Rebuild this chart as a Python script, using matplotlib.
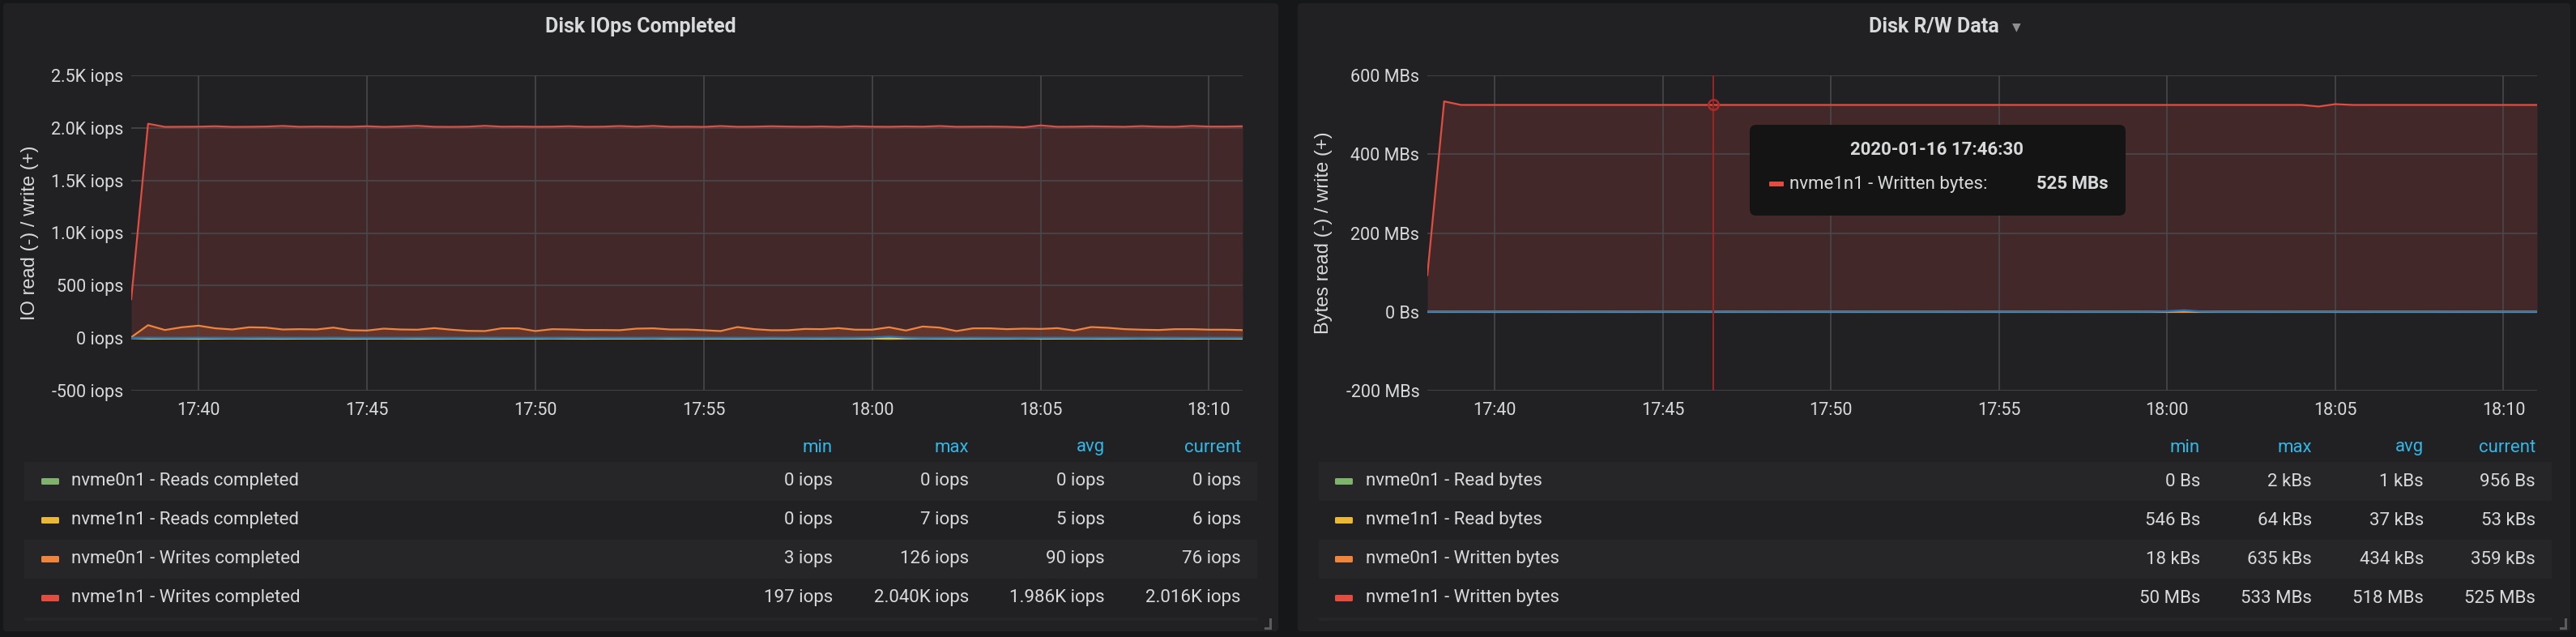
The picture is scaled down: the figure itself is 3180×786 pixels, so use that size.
import matplotlib
matplotlib.use('Agg')
import matplotlib.pyplot as plt
import matplotlib.dates as mdates
from matplotlib.patches import FancyBboxPatch
from matplotlib.transforms import IdentityTransform
from matplotlib.ticker import FuncFormatter, MultipleLocator
from matplotlib.lines import Line2D
from datetime import datetime, timedelta

W, H = 3180, 786

# ---- data (30 s samples, 17:38:00 .. 18:11:00) ----
start = datetime(2020, 1, 16, 17, 38, 0)
n_pts = 67

green_iops = [0, 0, 0, 0, 0, 0, 0, 0, 0, 0,
              0, 0, 0, 0, 0, 0, 0, 0, 0, 0,
              0, 0, 0, 0, 0, 0, 0, 0, 0, 0,
              0, 0, 0, 0, 0, 0, 0, 0, 0, 0,
              0, 0, 0, 0, 0, 0, 0, 0, 0, 0,
              0, 0, 0, 0, 0, 0, 0, 0, 0, 0,
              0, 0, 0, 0, 0, 0, 0]
yellow_iops = [-1, -6, -5, -5, -6, -5, -4, -5, -5, -6,
               -5, -5, -4, -6, -5, -5, -5, -6, -5, -4,
               -5, -5, -6, -5, -5, -4, -5, -6, -5, -5,
               -5, -4, -6, -5, -5, -5, -6, -5, -4, -5,
               -5, -6, -5, -5, -5, -7, -5, -4, -5, -6,
               -5, -5, -5, -4, -6, -5, -5, -5, -6, -5,
               -4, -5, -5, -6, -5, -5, -6]
orange_iops = [8, 123, 77, 103, 118, 93, 82, 103, 100, 82,
               85, 82, 100, 75, 72, 90, 82, 80, 95, 80,
               69, 67, 93, 93, 67, 85, 82, 77, 77, 75,
               90, 93, 82, 82, 75, 67, 105, 85, 75, 75,
               87, 85, 95, 80, 80, 103, 72, 110, 100, 67,
               93, 93, 85, 90, 87, 95, 72, 105, 98, 85,
               80, 77, 85, 85, 80, 80, 76]
red_iops = [370, 2040, 2010, 2011, 2012, 2016, 2010, 2011, 2013, 2019,
            2011, 2013, 2012, 2011, 2016, 2010, 2014, 2020, 2011, 2010,
            2012, 2020, 2012, 2013, 2011, 2012, 2016, 2011, 2012, 2018,
            2012, 2019, 2011, 2012, 2010, 2018, 2011, 2012, 2016, 2013,
            2011, 2014, 2010, 2016, 2012, 2011, 2014, 2012, 2018, 2011,
            2012, 2013, 2011, 2006, 2024, 2011, 2012, 2015, 2013, 2011,
            2017, 2012, 2011, 2019, 2013, 2013, 2016]
blue_iops = [2, 3, 2, 2, 3, 2, 2, 2, 3, 2,
             2, 2, 3, 2, 2, 2, 2, 3, 2, 2,
             2, 3, 2, 2, 2, 2, 3, 2, 2, 2,
             2, 2, 3, 2, 2, 2, 2, 2, 3, 2,
             2, 2, 2, 3, 6, 15, 5, 2, 2, 2,
             3, 2, 2, 2, 2, 3, 2, 2, 2, 2,
             2, 3, 2, 2, 2, 2, 2]

# MB/s
green_mb = [0, 0, 0, 0, 0, 0, 0, 0, 0, 0,
            0, 0, 0, 0, 0, 0, 0, 0, 0, 0,
            0, 0, 0, 0, 0, 0, 0, 0, 0, 0,
            0, 0, 0, 0, 0, 0, 0, 0, 0, 0,
            0, 0, 0, 0, 0, 0, 0, 0, 0, 0,
            0, 0, 0, 0, 0, 0, 0, 0, 0, 0,
            0, 0, 0, 0, 0, 0, 0]
yellow_mb = [-0.01, -0.06, -0.04, -0.04, -0.03, -0.04, -0.04, -0.03, -0.04, -0.04,
             -0.04, -0.03, -0.04, -0.04, -0.04, -0.03, -0.04, -0.04, -0.04, -0.03,
             -0.04, -0.04, -0.03, -0.04, -0.04, -0.04, -0.03, -0.04, -0.04, -0.04,
             -0.03, -0.04, -0.04, -0.04, -0.03, -0.04, -0.04, -0.04, -0.03, -0.04,
             -0.04, -0.04, -0.03, -0.04, -0.05, -0.06, -0.04, -0.04, -0.03, -0.04,
             -0.04, -0.04, -0.03, -0.04, -0.04, -0.04, -0.03, -0.04, -0.04, -0.04,
             -0.03, -0.04, -0.04, -0.04, -0.03, -0.04, -0.05]
orange_mb = [0.02, 0.63, 0.45, 0.5, 0.55, 0.45, 0.4, 0.5, 0.48, 0.4,
             0.42, 0.4, 0.48, 0.38, 0.36, 0.44, 0.4, 0.4, 0.46, 0.4,
             0.35, 0.34, 0.45, 0.45, 0.34, 0.42, 0.4, 0.38, 0.38, 0.37,
             0.44, 0.45, 0.4, 0.4, 0.37, 0.34, 0.5, 0.42, 0.37, 0.37,
             0.43, 0.42, 0.46, 0.4, 0.4, 0.5, 0.36, 0.52, 0.48, 0.34,
             0.45, 0.45, 0.42, 0.44, 0.43, 0.46, 0.36, 0.5, 0.47, 0.42,
             0.4, 0.38, 0.42, 0.42, 0.4, 0.4, 0.36]
red_mb = [93, 534, 525, 525, 525, 525, 525, 525, 525, 525,
          525, 525, 525, 525, 525, 525, 525, 525, 525, 525,
          525, 525, 525, 525, 525, 525, 525, 525, 525, 525,
          525, 525, 525, 525, 525, 525, 525, 525, 525, 525,
          525, 525, 525, 525, 525, 525, 525, 525, 525, 525,
          525, 525, 525, 521, 527, 525, 525, 525, 525, 525,
          525, 525, 525, 525, 525, 525, 525]
blue_mb = [0.5, 0.6, 0.5, 0.5, 0.6, 0.5, 0.5, 0.5, 0.6, 0.5,
           0.5, 0.5, 0.6, 0.5, 0.5, 0.5, 0.5, 0.6, 0.5, 0.5,
           0.5, 0.6, 0.5, 0.5, 0.5, 0.5, 0.6, 0.5, 0.5, 0.5,
           0.5, 0.5, 0.6, 0.5, 0.5, 0.5, 0.5, 0.5, 0.6, 0.5,
           0.5, 0.5, 0.5, 0.6, 1.5, 4.0, 1.0, 0.5, 0.5, 0.5,
           0.6, 0.5, 0.5, 0.5, 0.5, 0.6, 0.5, 0.5, 0.5, 0.5,
           0.5, 0.6, 0.5, 0.5, 0.5, 0.5, 0.5]

iops_names = ["nvme0n1 - Reads completed", "nvme1n1 - Reads completed",
              "nvme0n1 - Writes completed", "nvme1n1 - Writes completed"]
iops_stats = [["0 iops", "0 iops", "0 iops", "0 iops"],
              ["0 iops", "7 iops", "5 iops", "6 iops"],
              ["3 iops", "126 iops", "90 iops", "76 iops"],
              ["197 iops", "2.040K iops", "1.986K iops", "2.016K iops"]]
bytes_names = ["nvme0n1 - Read bytes", "nvme1n1 - Read bytes",
               "nvme0n1 - Written bytes", "nvme1n1 - Written bytes"]
bytes_stats = [["0 Bs", "2 kBs", "1 kBs", "956 Bs"],
               ["546 Bs", "64 kBs", "37 kBs", "53 kBs"],
               ["18 kBs", "635 kBs", "434 kBs", "359 kBs"],
               ["50 MBs", "533 MBs", "518 MBs", "525 MBs"]]
stat_heads = ["min", "max", "avg", "current"]

hover_time = datetime(2020, 1, 16, 17, 46, 30)
hover_label = "nvme1n1 - Written bytes:"
hover_value = 525

# ---- style ----
PAGE = '#161719'
PANEL = '#212124'
STRIPE = '#262629'
GRID = '#48484c'
TXT = '#d8d9da'
HEAD = '#33b5e5'
colors = ['#7eb26d', '#eab839', '#ef843c', '#e24d42']
BLUE = '#1f78c1'
FONT = 'Roboto'

times = [start + timedelta(seconds=30 * i) for i in range(n_pts)]

fig = plt.figure(figsize=(W / 100, H / 100), dpi=100, facecolor=PAGE)


def px_box(x0, y0, x1, y1, color, r=4, z=-5):
    p = FancyBboxPatch((x0, H - y1), x1 - x0, y1 - y0,
                       boxstyle=f"round,pad=0,rounding_size={r}",
                       transform=IdentityTransform(), facecolor=color,
                       edgecolor='none', zorder=z)
    fig.add_artist(p)


def px_text(x, y, s, **kw):
    kw.setdefault('family', FONT)
    kw.setdefault('color', TXT)
    kw.setdefault('fontsize', 16)
    kw.setdefault('va', 'center')
    return fig.text(x / W, 1 - y / H, s, **kw)


def make_axes(x0, y0, x1, y1):
    ax = fig.add_axes([x0 / W, 1 - y1 / H, (x1 - x0) / W, (y1 - y0) / H])
    ax.set_facecolor('none')
    for s in ax.spines.values():
        s.set_visible(False)
    ax.grid(True, color=GRID, lw=1.2)
    ax.tick_params(length=0, colors=TXT, labelsize=15.5)
    ax.tick_params(axis='x', pad=10)
    ax.tick_params(axis='y', pad=7)
    ax.xaxis.set_major_locator(mdates.MinuteLocator(byminute=range(0, 60, 5)))
    ax.xaxis.set_major_formatter(mdates.DateFormatter('%H:%M'))
    ax.set_xlim(times[0], times[-1])
    return ax


def draw_series(ax, series):
    for vals, c in series:
        ax.fill_between(times, vals, 0, color=c, alpha=0.18, lw=0, zorder=1)
    for vals, c in series:
        ax.plot(times, vals, color=c, lw=1.6, zorder=3)


def legend_table(x_row0, x_row1, x_sw, x_txt, cols, names, stats):
    for i, h in enumerate(stat_heads):
        px_text(cols[i], 552, h, ha='right', color=HEAD)
    for r in range(4):
        y0 = 570 + 48 * r
        if r % 2 == 0:
            px_box(x_row0, y0, x_row1, y0 + 48, STRIPE, r=0, z=-4)
        yc = y0 + 24
        px_box(x_sw, yc - 4, x_sw + 22, yc + 4, colors[r], r=1.5, z=-3)
        px_text(x_txt, yc, names[r], ha='left')
        for i in range(4):
            px_text(cols[i], yc, stats[r][i], ha='right')
    px_box(x_row0, 762, x_row1, 766, STRIPE, r=0, z=-4)


def resize_handle(x, y):
    fig.add_artist(Line2D([x / W, x / W], [1 - (y - 11) / H, 1 - y / H],
                          color='#5c5c60', lw=2.2))
    fig.add_artist(Line2D([(x - 6) / W, x / W], [1 - y / H, 1 - y / H],
                          color='#5c5c60', lw=2.2))


def font_ticks(ax):
    for lab in ax.get_xticklabels() + ax.get_yticklabels():
        lab.set_family(FONT)


# panels
px_box(4, 4, 1578, 779, PANEL)
px_box(1602, 4, 3173, 779, PANEL)

# ---- left: Disk IOps Completed ----
ax1 = make_axes(162, 93, 1534, 482)
draw_series(ax1, [(green_iops, colors[0]), (yellow_iops, colors[1]),
                  (orange_iops, colors[2]), (blue_iops, BLUE), (red_iops, colors[3])])
ax1.set_ylim(-500, 2500)
ax1.yaxis.set_major_locator(MultipleLocator(500))
ax1.yaxis.set_major_formatter(FuncFormatter(
    lambda v, p: f"{v / 1000:.1f}K iops" if abs(v) >= 1000 else f"{v:.0f} iops"))
font_ticks(ax1)

px_text(791, 33, "Disk IOps Completed", ha='center', fontsize=18, fontweight='bold')
px_text(37, 287, "IO read (-) / write (+)", ha='center', rotation=90,
        family='Liberation Sans', fontsize=17)
legend_table(30, 1552, 51, 88, [1028, 1196, 1364, 1532], iops_names, iops_stats)
resize_handle(1568, 775)

# ---- right: Disk R/W Data ----
ax2 = make_axes(1762, 93, 3132, 482)
draw_series(ax2, [(green_mb, colors[0]), (yellow_mb, colors[1]),
                  (orange_mb, colors[2]), (blue_mb, BLUE), (red_mb, colors[3])])
ax2.set_ylim(-200, 600)
ax2.yaxis.set_major_locator(MultipleLocator(200))
ax2.yaxis.set_major_formatter(FuncFormatter(
    lambda v, p: "0 Bs" if v == 0 else f"{v:.0f} MBs"))
font_ticks(ax2)

# hover crosshair
ax2.axvline(hover_time, color='#a02222', lw=1.4, zorder=4)
ax2.plot([hover_time], [hover_value], marker='o', ms=9, mfc='none',
         mec='#b02a2a', mew=1.8, zorder=5)

px_text(2387, 33, "Disk R/W Data", ha='center', fontsize=18, fontweight='bold')
px_text(2484, 33, "\u25BC", ha='left', fontsize=10, color='#8e8e8e', family='DejaVu Sans')
px_text(1634, 287, "Bytes read (-) / write (+)", ha='center', rotation=90,
        family='Liberation Sans', fontsize=17)
legend_table(1628, 3150, 1648, 1686, [2716, 2854, 2992, 3130], bytes_names, bytes_stats)
resize_handle(3167, 775)

# tooltip
px_box(2160, 154, 2624, 266, '#141414', r=8, z=10)
px_text(2391, 185, hover_time.strftime('%Y-%m-%d %H:%M:%S'), ha='center',
        fontweight='bold', zorder=11)
px_box(2184, 224, 2202, 230, colors[3], r=1, z=11)
px_text(2209, 227, hover_label, ha='left', zorder=11)
px_text(2603, 227, f"{hover_value} MBs", ha='right', fontweight='bold', zorder=11)

fig.savefig('out.png', dpi=100, facecolor=PAGE)
